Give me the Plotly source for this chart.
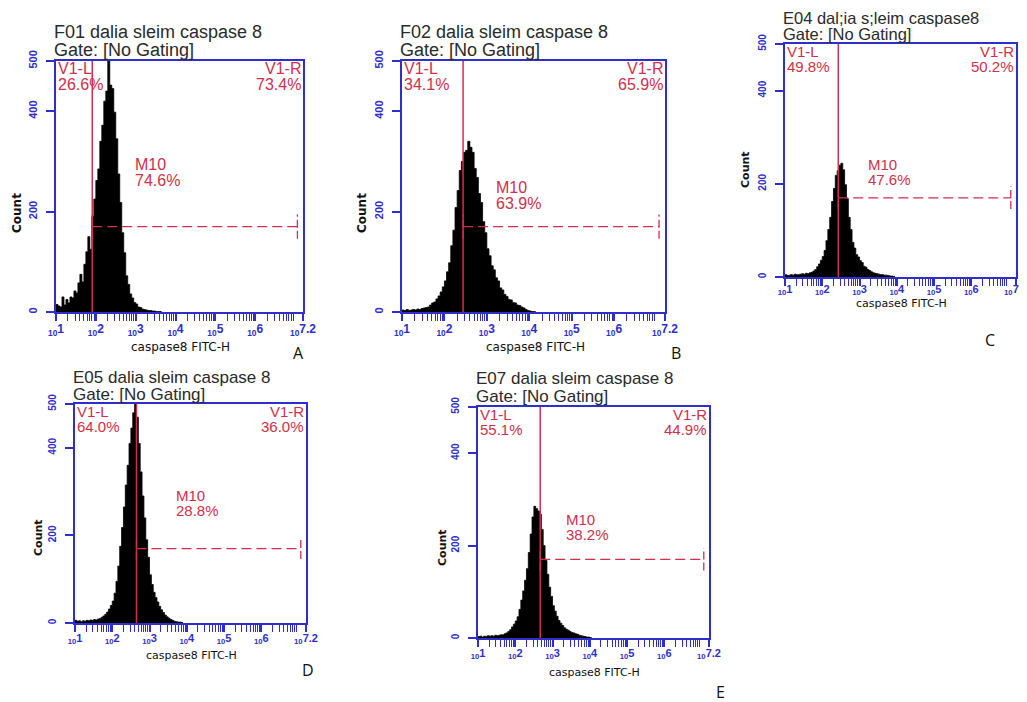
import plotly.graph_objects as go

# ---------------- data ----------------
BIN_START = 1.0      # log10 of first bin edge
BIN_WIDTH = 0.05     # bin width in decades

counts_A = [15, 12, 10, 30, 14, 25, 18, 30, 28, 42, 38, 58, 75, 60, 95, 120, 150, 125, 190, 225,
            262, 285, 340, 372, 420, 440, 500, 452, 445, 398, 345, 275, 218, 158, 118, 72, 55, 36, 28, 19,
            16, 10, 9, 6, 5, 4, 3, 3, 2, 2, 1, 1, 1]
counts_B = [4, 3, 5, 3, 4, 5, 4, 6, 5, 7, 8, 9, 10, 14, 18, 20, 26, 32, 40, 50,
            62, 80, 98, 132, 163, 208, 242, 282, 300, 318, 322, 340, 328, 318, 286, 268, 236, 218, 180, 158,
            126, 112, 92, 84, 68, 62, 48, 44, 35, 31, 25, 24, 19, 18, 14, 13, 10, 8, 5, 3,
            2, 1, 1]
counts_C = [5, 3, 4, 5, 4, 6, 5, 5, 6, 7, 6, 8, 7, 9, 10, 13, 16, 22, 28, 36,
            44, 57, 78, 102, 128, 162, 190, 218, 228, 240, 244, 230, 198, 168, 128, 102, 74, 62, 48, 43,
            35, 31, 23, 21, 16, 14, 11, 9, 8, 7, 6, 5, 5, 4, 4, 3, 2, 2, 1]
counts_D = [6, 4, 5, 3, 5, 4, 6, 5, 7, 6, 8, 7, 9, 10, 13, 16, 20, 25, 32, 40,
            50, 68, 95, 130, 175, 218, 265, 315, 360, 410, 445, 480, 510, 470, 410, 345, 290, 240, 190, 150,
            110, 88, 70, 58, 48, 38, 30, 24, 18, 14, 11, 8, 6, 4, 3, 2, 2, 1]
counts_E = [3, 4, 2, 4, 3, 5, 4, 5, 4, 6, 5, 6, 7, 7, 9, 11, 14, 18, 24, 30,
            37, 46, 62, 82, 102, 125, 150, 185, 225, 262, 285, 280, 275, 268, 235, 200, 168, 138, 110, 90,
            70, 58, 47, 38, 32, 27, 22, 19, 17, 14, 12, 11, 9, 8, 6, 5, 4, 3, 2, 2,
            1]

panel_counts = [counts_A, counts_B, counts_C, counts_D, counts_E]
panel_titles = ["F01 dalia sleim caspase 8", "F02 dalia sleim caspase 8", "E04 dal;ia s;leim caspase8",
                "E05 dalia sleim caspase 8", "E07 dalia sleim caspase 8"]
gate_text = "Gate: [No Gating]"
gate_log = [1.91, 2.44, 2.43, 2.65, 2.67]
v1_left_pct = ["26.6%", "34.1%", "49.8%", "64.0%", "55.1%"]
v1_right_pct = ["73.4%", "65.9%", "50.2%", "36.0%", "44.9%"]
m10_pct = ["74.6%", "63.9%", "47.6%", "28.8%", "38.2%"]
m10_label_log = [2.94, 3.17, 3.17, 3.65, 3.30]
m10_label_count = [309, 263, 258, 308, 273]
M10_LEVEL = 170
M10_END_LOG = 7.06
panel_letters = ["A", "B", "C", "D", "E"]
x_title = "caspase8 FITC-H"
y_title = "Count"

x_tick_log = [1, 2, 3, 4, 5, 6, 7.2]
x_tick_exp = ["1", "2", "3", "4", "5", "6", "7.2"]
y_tick_vals = [0, 200, 400, 500]

# ---------------- layout (pixels in the 1027x702 window) ----------------
PAGE_MARGIN = 8                      # default body margin of the page
W, H = 1027 - PAGE_MARGIN, 702 - PAGE_MARGIN
panel_px = [(56, 303, 61, 312), (402, 665, 61, 312), (785, 1016, 44, 277),
            (75, 306, 404, 623), (478, 709, 407, 638)]
font_scale = [1.0, 1.03, 0.93, 0.94, 0.94]
title_size = [18, 18, 16.5, 17, 17]
title_lines_px = [(32, 50), (32, 50), (18, 34), (377, 394), (378, 396)]
xtick_standoff = [-2, -2, -6, -3, -3]
ytitle_px = [(17, 213), (362, 213), (745, 170), (38, 538), (442, 548)]
xtitle_px = [(180, 347), (535, 347), (901, 303), (191, 655), (594, 672)]
letter_px = [(298, 353), (676, 353), (990, 340), (308, 670), (720, 692)]

BLUE = "#2e2ecc"
RED = "#d0304a"
TXT = "#2a2a2a"
SANS = "Liberation Sans, Arial, sans-serif"

fig = go.Figure()
layout = dict(width=W, height=H, margin=dict(l=0, r=0, t=0, b=0, autoexpand=False),
              paper_bgcolor="white", plot_bgcolor="white", showlegend=False,
              font=dict(family=SANS))
annotations = []

minor_vals = [m * 10 ** d for d in range(1, 8) for m in range(2, 10) if m * 10 ** d < 10 ** 7.2]


def px_x(p):
    return (p - PAGE_MARGIN) / W


def px_y(p):
    return 1 - (p - PAGE_MARGIN) / H


for i, counts in enumerate(panel_counts):
    n = i + 1
    s = font_scale[i]
    xs = "x" if n == 1 else f"x{n}"
    ys = "y" if n == 1 else f"y{n}"
    xl, xr, yt, yb = panel_px[i]
    xdom = [px_x(xl), px_x(xr)]
    ydom = [px_y(yb), px_y(yt)]

    edges = [10 ** (BIN_START + BIN_WIDTH * k) for k in range(len(counts) + 1)]
    yvals = list(counts) + [counts[-1]]
    fig.add_trace(go.Scatter(x=edges, y=yvals, mode="lines", line=dict(shape="hv", color="black", width=0.8),
                             fill="tozeroy", fillcolor="black", xaxis=xs, yaxis=ys, hoverinfo="skip"))
    # V1 gate line
    g = 10 ** gate_log[i]
    fig.add_trace(go.Scatter(x=[g, g], y=[0, 500], mode="lines", line=dict(color=RED, width=1.5),
                             xaxis=xs, yaxis=ys, hoverinfo="skip"))
    # M10 marker
    e = 10 ** M10_END_LOG
    fig.add_trace(go.Scatter(x=[g, e], y=[M10_LEVEL, M10_LEVEL], mode="lines",
                             line=dict(color=RED, width=1.2, dash="10px,5px"), xaxis=xs, yaxis=ys,
                             hoverinfo="skip"))
    for xe in (g, e):
        fig.add_trace(go.Scatter(x=[xe, xe], y=[M10_LEVEL - 24, M10_LEVEL + 24], mode="lines",
                                 line=dict(color=RED, width=1.3, dash="8px,3px"), xaxis=xs, yaxis=ys,
                                 hoverinfo="skip"))

    xkey = "xaxis" if n == 1 else f"xaxis{n}"
    ykey = "yaxis" if n == 1 else f"yaxis{n}"
    layout[xkey] = dict(type="log", range=[1, 7.2], domain=xdom, anchor=ys, automargin=False,
                        showline=True, linecolor=BLUE, linewidth=1.5, mirror=True,
                        showgrid=False, zeroline=False,
                        ticks="outside", ticklen=7, tickcolor=BLUE, tickwidth=1.5,
                        tickvals=[10 ** v for v in x_tick_log],
                        ticktext=[f"<b><sub>10</sub>{t}</b>" for t in x_tick_exp],
                        tickfont=dict(size=round(12 * s), color=BLUE), ticklabelstandoff=xtick_standoff[i],
                        ticklabeloverflow="allow",
                        minor=dict(ticks="outside", ticklen=7, tickcolor=BLUE, tickwidth=1.3,
                                   tickvals=minor_vals, showgrid=False))
    layout[ykey] = dict(range=[0, 500], domain=ydom, anchor=xs, automargin=False,
                        showline=True, linecolor=BLUE, linewidth=1.5, mirror=True,
                        showgrid=False, zeroline=False,
                        ticks="outside", ticklen=8, tickcolor=BLUE, tickwidth=1.5,
                        tickvals=y_tick_vals, ticktext=[f"<b>{v}</b>" for v in y_tick_vals],
                        tickangle=-90, tickfont=dict(size=round(11 * s), color=BLUE),
                        ticklabelstandoff=5)

    # title (two lines)
    l1, l2 = title_lines_px[i]
    for line_y, txt in ((l1, panel_titles[i]), (l2, gate_text)):
        annotations.append(dict(xref="paper", yref="paper", x=px_x(xl - 3), y=px_y(line_y),
                                xanchor="left", yanchor="middle", showarrow=False, borderpad=0,
                                text=txt, font=dict(size=title_size[i], color=TXT)))
    # V1 labels
    ls = round(16 * s)
    for k, (xx, anc, lab) in enumerate([(0.0, "left", "V1-L"), (1.0, "right", "V1-R")]):
        pct = v1_left_pct[i] if k == 0 else v1_right_pct[i]
        annotations.append(dict(xref=f"{xs} domain", yref=f"{ys} domain", x=xx, y=1.0,
                                xanchor=anc, yanchor="top", showarrow=False, yshift=3,
                                text=lab, font=dict(size=ls, color=RED)))
        annotations.append(dict(xref=f"{xs} domain", yref=f"{ys} domain", x=xx, y=1.0,
                                xanchor=anc, yanchor="top", showarrow=False, yshift=3 - round(16 * s),
                                text=pct, font=dict(size=ls, color=RED)))
    # M10 label
    annotations.append(dict(xref=xs, yref=ys, x=m10_label_log[i], y=m10_label_count[i],
                            xanchor="left", yanchor="top", showarrow=False, yshift=3,
                            text="M10", font=dict(size=ls, color=RED)))
    annotations.append(dict(xref=xs, yref=ys, x=m10_label_log[i], y=m10_label_count[i],
                            xanchor="left", yanchor="top", showarrow=False, yshift=3 - round(16 * s),
                            text=m10_pct[i], font=dict(size=ls, color=RED)))
    # axis titles
    tx, ty = xtitle_px[i]
    annotations.append(dict(xref="paper", yref="paper", x=px_x(tx), y=px_y(ty),
                            xanchor="center", yanchor="middle", showarrow=False,
                            text=x_title, font=dict(size=round(12 * s), color="#111",
                                                    family="DejaVu Sans, sans-serif")))
    yx, yy = ytitle_px[i]
    annotations.append(dict(xref="paper", yref="paper", x=px_x(yx), y=px_y(yy),
                            xanchor="center", yanchor="middle", showarrow=False, textangle=-90,
                            text=f"<b>{y_title}</b>", font=dict(size=round(12 * s), color="#111",
                                                                family="DejaVu Sans, sans-serif")))
    # panel letter
    lx, ly = letter_px[i]
    annotations.append(dict(xref="paper", yref="paper", x=px_x(lx), y=px_y(ly),
                            xanchor="center", yanchor="middle", showarrow=False,
                            text=panel_letters[i], font=dict(size=16, color="#111",
                                                             family="Open Sans, sans-serif")))

layout["annotations"] = annotations
fig.update_layout(**layout)
fig.write_html("out.html")
